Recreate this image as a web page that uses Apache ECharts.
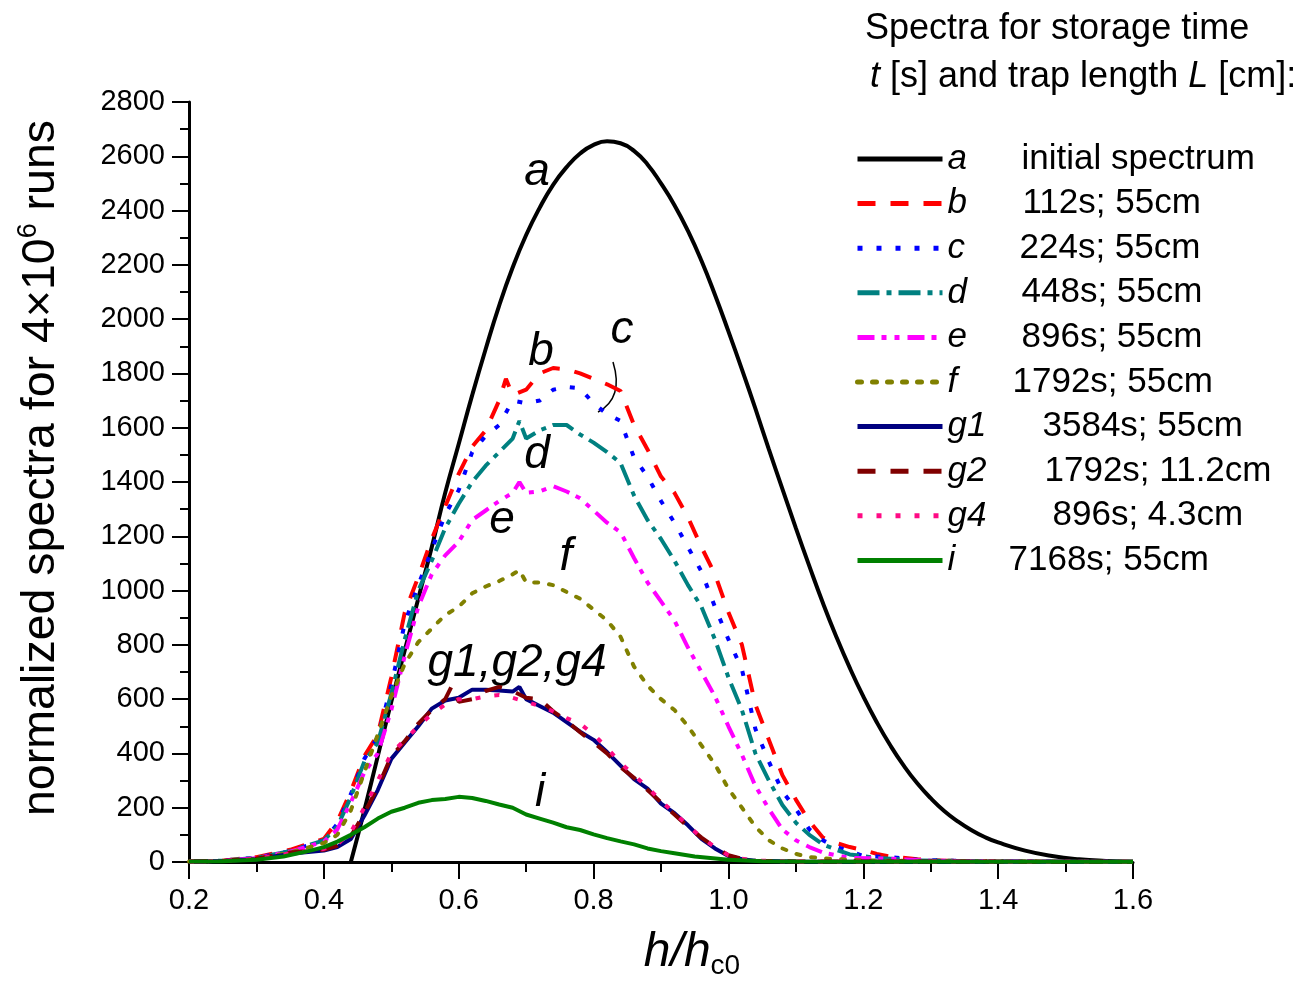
<!DOCTYPE html>
<html>
<head>
<meta charset="utf-8">
<script src="https://cdn.jsdelivr.net/npm/echarts@6/dist/echarts.min.js"></script>
<style>
  html, body { margin: 0; padding: 0; background: #fff; }
  #chart { width: 1301px; height: 986px; }
</style>
</head>
<body>
<div id="chart"></div>
<script>
// curve names, legend descriptions
const names = ['a', 'b', 'c', 'd', 'e', 'f', 'g1', 'g2', 'g4', 'i'];
const descs = ['initial spectrum', '112s; 55cm', '224s; 55cm', '448s; 55cm', '896s; 55cm',
  '1792s; 55cm', '3584s; 55cm', '1792s; 11.2cm', '896s; 4.3cm', '7168s; 55cm'];

// x ticks (h/hc0) and y ticks
const xTicks = [0.2, 0.4, 0.6, 0.8, 1.0, 1.2, 1.4, 1.6];
const yTicks = [0, 200, 400, 600, 800, 1000, 1200, 1400, 1600, 1800, 2000, 2200, 2400, 2600, 2800];

// [h/hc0, counts]
const curveA = [[0.44,0],[0.46,190],[0.48,390],[0.50,590],[0.52,780],[0.54,970],[0.56,1160],[0.58,1360],
  [0.60,1540],[0.62,1720],[0.64,1890],[0.66,2050],[0.68,2190],[0.70,2310],[0.72,2410],[0.74,2495],
  [0.76,2560],[0.78,2610],[0.80,2642],[0.82,2655],[0.84,2648],[0.86,2620],[0.88,2570],[0.90,2500],
  [0.92,2420],[0.94,2325],[0.96,2215],[0.98,2090],[1.00,1955],[1.02,1815],[1.04,1670],[1.06,1520],
  [1.08,1375],[1.10,1230],[1.12,1090],[1.14,955],[1.16,830],[1.18,715],[1.20,610],[1.22,515],
  [1.24,430],[1.26,355],[1.28,290],[1.30,235],[1.32,188],[1.34,150],[1.36,118],[1.38,92],[1.40,72],
  [1.44,42],[1.48,22],[1.52,10],[1.56,4],[1.60,1]];
const curveB = [[0.20,2],[0.25,5],[0.30,18],[0.35,45],[0.40,85],[0.42,150],[0.44,260],[0.46,390],[0.48,470],
  [0.50,680],[0.52,920],[0.54,1050],[0.56,1190],[0.58,1310],[0.60,1430],[0.62,1530],[0.64,1590],[0.66,1700],
  [0.67,1780],[0.68,1720],[0.70,1740],[0.72,1800],[0.74,1820],[0.76,1815],[0.78,1800],[0.80,1780],[0.82,1760],
  [0.84,1735],[0.86,1610],[0.88,1520],[0.90,1420],[0.92,1360],[0.94,1270],[0.96,1160],[0.98,1060],[1.00,920],
  [1.02,800],[1.04,580],[1.06,450],[1.08,320],[1.10,230],[1.12,150],[1.14,90],[1.16,70],[1.18,55],[1.20,44],
  [1.22,30],[1.24,20],[1.28,10],[1.32,5],[1.40,2],[1.60,0]];
const curveC = [[0.20,2],[0.25,5],[0.30,16],[0.35,40],[0.40,80],[0.42,140],[0.44,250],[0.46,380],[0.48,460],
  [0.50,650],[0.52,880],[0.54,1020],[0.56,1150],[0.58,1280],[0.60,1370],[0.62,1510],[0.64,1570],[0.66,1610],
  [0.68,1700],[0.70,1690],[0.72,1700],[0.74,1740],[0.76,1750],[0.78,1745],[0.80,1690],[0.82,1650],[0.84,1625],
  [0.86,1490],[0.88,1420],[0.90,1330],[0.92,1250],[0.94,1160],[0.96,1070],[0.98,940],[1.00,820],[1.02,710],
  [1.04,490],[1.06,370],[1.08,260],[1.10,195],[1.12,120],[1.14,80],[1.16,55],[1.18,40],[1.20,22],[1.24,18],
  [1.28,8],[1.34,4],[1.45,2],[1.60,0]];
const curveD = [[0.20,2],[0.25,5],[0.30,15],[0.35,40],[0.40,80],[0.42,130],[0.44,240],[0.46,370],[0.48,440],
  [0.50,620],[0.52,820],[0.54,1000],[0.56,1110],[0.58,1230],[0.60,1320],[0.62,1400],[0.64,1460],[0.66,1510],
  [0.68,1560],[0.69,1625],[0.70,1560],[0.72,1590],[0.74,1610],[0.76,1610],[0.78,1575],[0.80,1545],[0.82,1510],
  [0.84,1470],[0.86,1350],[0.88,1260],[0.90,1190],[0.92,1110],[0.94,1020],[0.96,940],[0.98,820],[1.00,680],
  [1.02,560],[1.04,400],[1.06,300],[1.08,210],[1.10,145],[1.12,100],[1.14,65],[1.16,45],[1.18,28],[1.22,15],
  [1.28,6],[1.40,2],[1.60,0]];
const curveE = [[0.20,2],[0.25,4],[0.30,14],[0.35,38],[0.40,75],[0.42,120],[0.44,220],[0.46,330],[0.48,400],
  [0.50,560],[0.52,760],[0.54,940],[0.56,1060],[0.58,1130],[0.60,1180],[0.62,1260],[0.64,1295],[0.66,1330],
  [0.68,1360],[0.69,1400],[0.70,1360],[0.72,1365],[0.74,1385],[0.76,1365],[0.78,1340],[0.80,1295],[0.82,1250],
  [0.84,1215],[0.86,1120],[0.88,1030],[0.90,960],[0.92,890],[0.94,790],[0.96,700],[0.98,610],[1.00,500],
  [1.02,395],[1.04,280],[1.06,195],[1.08,120],[1.10,80],[1.12,55],[1.14,35],[1.16,25],[1.18,15],[1.24,12],
  [1.30,5],[1.40,2],[1.60,0]];
const curveF = [[0.20,2],[0.25,4],[0.30,12],[0.35,35],[0.40,70],[0.42,100],[0.44,190],[0.46,330],[0.48,470],
  [0.50,610],[0.52,730],[0.54,810],[0.56,860],[0.58,910],[0.60,940],[0.62,990],[0.64,1015],[0.66,1035],
  [0.68,1060],[0.69,1075],[0.70,1030],[0.72,1030],[0.74,1020],[0.76,995],[0.78,970],[0.80,930],[0.82,890],
  [0.84,830],[0.86,720],[0.88,650],[0.90,600],[0.92,560],[0.94,500],[0.96,430],[0.98,360],[1.00,270],
  [1.02,200],[1.04,130],[1.06,80],[1.08,50],[1.09,40],[1.10,30],[1.12,18],[1.15,12],[1.20,6],[1.30,3],[1.60,0]];
const curveG1 = [[0.20,2],[0.25,4],[0.30,10],[0.35,30],[0.40,42],[0.42,55],[0.44,85],[0.46,170],[0.48,265],
  [0.50,380],[0.52,440],[0.54,500],[0.56,565],[0.58,595],[0.60,605],[0.62,635],[0.64,635],[0.66,632],
  [0.68,628],[0.69,645],[0.70,600],[0.72,575],[0.74,550],[0.76,515],[0.78,480],[0.80,450],[0.82,405],
  [0.84,355],[0.86,305],[0.88,270],[0.90,215],[0.92,180],[0.94,135],[0.96,85],[0.98,50],[1.00,22],
  [1.02,10],[1.04,5],[1.10,2],[1.60,1]];
const curveG2 = [[0.20,2],[0.25,4],[0.30,12],[0.35,35],[0.40,45],[0.42,60],[0.44,95],[0.46,180],[0.48,275],
  [0.50,390],[0.52,445],[0.54,510],[0.56,560],[0.58,600],[0.59,650],[0.60,590],[0.62,600],[0.64,630],
  [0.66,645],[0.68,630],[0.70,605],[0.72,600],[0.74,555],[0.76,520],[0.78,478],[0.80,440],[0.82,400],
  [0.84,350],[0.86,310],[0.88,265],[0.90,220],[0.92,175],[0.94,130],[0.96,90],[0.98,55],[1.00,25],
  [1.02,12],[1.04,5],[1.10,2],[1.60,1]];
const curveG4 = [[0.20,2],[0.25,4],[0.30,12],[0.35,32],[0.40,48],[0.42,65],[0.44,110],[0.46,200],[0.48,300],
  [0.50,400],[0.52,450],[0.54,500],[0.56,545],[0.58,580],[0.60,600],[0.62,600],[0.64,610],[0.66,615],
  [0.68,605],[0.70,590],[0.72,575],[0.74,555],[0.76,530],[0.78,510],[0.80,470],[0.82,420],[0.84,365],
  [0.86,320],[0.88,275],[0.90,225],[0.92,180],[0.94,135],[0.96,90],[0.98,55],[1.00,25],[1.02,12],
  [1.04,5],[1.10,2],[1.60,1]];
const curveI = [[0.20,2],[0.25,3],[0.30,8],[0.34,20],[0.38,42],[0.40,55],[0.42,75],[0.44,100],[0.46,128],
  [0.48,160],[0.50,185],[0.52,200],[0.54,218],[0.56,228],[0.58,232],[0.60,240],[0.62,236],[0.64,225],
  [0.66,212],[0.68,200],[0.70,175],[0.72,160],[0.74,145],[0.76,128],[0.78,118],[0.80,102],[0.82,88],
  [0.84,76],[0.86,65],[0.88,50],[0.90,40],[0.92,32],[0.95,20],[1.00,8],[1.05,3],[1.10,2],[1.60,1]];

const curves = [curveA, curveB, curveC, curveD, curveE, curveF, curveG1, curveG2, curveG4, curveI];

const FONT = '"Liberation Sans", Arial, sans-serif';
const colors = ['#000000', '#ff0000', '#0000ff', '#008080', '#ff00ff', '#808000', '#000080', '#800000', '#ff0a84', '#008000'];
const dashes = ['solid', [18, 15], [5, 14], [22, 7, 5, 7], [17, 7, 5, 8, 5, 8], [4, 11], 'solid', [18, 15], [5, 14], 'solid'];
const caps = ['butt', 'butt', 'butt', 'butt', 'butt', 'round', 'butt', 'butt', 'butt', 'butt'];
// horizontal offset of each legend description
const descPad = [19, 20, 17, 19, 19, 10, 40, 42, 50, 6];

const rich = { L: { fontSize: 35, fontStyle: 'italic', width: 55, fontFamily: FONT, color: '#000' } };
descPad.forEach(function (p, k) {
  rich['t' + k] = { fontSize: 35, padding: [0, 0, 0, p], fontFamily: FONT, color: '#000' };
});

const series = curves.map(function (c, k) {
  return {
    name: names[k],
    type: 'line',
    data: c,
    symbol: 'none',
    showSymbol: false,
    smooth: k === 0,
    z: 2,
    lineStyle: { color: colors[k], width: 4, type: dashes[k], cap: caps[k] },
    itemStyle: { color: colors[k] }
  };
});

const chart = echarts.init(document.getElementById('chart'));
chart.setOption({
  animation: false,
  backgroundColor: '#fff',
  title: {
    left: 860,
    top: 0,
    text: '{n|Spectra for storage time}\n {i|t}{n| [s] and trap length }{i|L}{n| [cm]:}',
    textStyle: {
      fontWeight: 'normal',
      rich: {
        n: { fontSize: 36, fontFamily: FONT, fontWeight: 'normal', color: '#000', lineHeight: 48 },
        i: { fontSize: 36, fontFamily: FONT, fontWeight: 'normal', fontStyle: 'italic', color: '#000', lineHeight: 48 }
      }
    }
  },
  legend: {
    orient: 'vertical',
    left: 850,
    top: 134,
    itemWidth: 85,
    itemHeight: 14,
    itemGap: 4.6,
    data: names,
    selectedMode: false,
    itemStyle: { opacity: 0, borderWidth: 0 },
    lineStyle: { width: 5 },
    formatter: function (name) {
      const k = names.indexOf(name);
      return '{L|' + name + '}{t' + k + '|' + descs[k] + '}';
    },
    textStyle: { rich: rich, lineHeight: 40 }
  },
  grid: { left: 189, right: 168, top: 102, bottom: 124 },
  xAxis: {
    type: 'value',
    min: xTicks[0],
    max: xTicks[xTicks.length - 1],
    interval: 0.2,
    name: '{i|h/h}{s|c0}',
    nameLocation: 'middle',
    nameGap: 64,
    nameTextStyle: {
      padding: [0, 0, 0, 62],
      rich: {
        i: { fontSize: 48, fontStyle: 'italic', fontFamily: FONT, color: '#000' },
        s: { fontSize: 28, fontFamily: FONT, color: '#000', padding: [26, 0, 0, 0] }
      }
    },
    axisLine: { onZero: false, lineStyle: { color: '#000', width: 3 } },
    axisTick: { length: 17, lineStyle: { color: '#000', width: 2 } },
    minorTick: { show: true, splitNumber: 2, length: 10, lineStyle: { color: '#000', width: 2 } },
    splitLine: { show: false },
    axisLabel: {
      margin: 24,
      color: '#000',
      fontSize: 29,
      fontFamily: FONT,
      formatter: function (v) { return v.toFixed(1); }
    }
  },
  yAxis: {
    type: 'value',
    min: yTicks[0],
    max: yTicks[yTicks.length - 1],
    interval: 200,
    name: '{n|normalized spectra for 4×10}{s|6}{n| runs}',
    nameLocation: 'middle',
    nameRotate: 90,
    nameGap: 121,
    nameTextStyle: {
      padding: [0, 0, 0, 28],
      rich: {
        n: { fontSize: 46.5, fontFamily: FONT, color: '#000' },
        s: { fontSize: 27, fontFamily: FONT, color: '#000', padding: [0, 0, 26, 0] }
      }
    },
    axisLine: { onZero: false, lineStyle: { color: '#000', width: 3 } },
    axisTick: { length: 17, lineStyle: { color: '#000', width: 2 } },
    minorTick: { show: true, splitNumber: 2, length: 9, lineStyle: { color: '#000', width: 2 } },
    splitLine: { show: false },
    axisLabel: {
      margin: 24,
      color: '#000',
      fontSize: 29,
      fontFamily: FONT,
      formatter: function (v) { return String(v); }
    }
  },
  graphic: [
    { type: 'text', x: 537, y: 172, style: { text: 'a', font: 'italic 46px ' + FONT, fill: '#000', align: 'center', verticalAlign: 'middle' } },
    { type: 'text', x: 541, y: 352, style: { text: 'b', font: 'italic 46px ' + FONT, fill: '#000', align: 'center', verticalAlign: 'middle' } },
    { type: 'text', x: 622, y: 330, style: { text: 'c', font: 'italic 46px ' + FONT, fill: '#000', align: 'center', verticalAlign: 'middle' } },
    { type: 'text', x: 537, y: 455, style: { text: 'd', font: 'italic 46px ' + FONT, fill: '#000', align: 'center', verticalAlign: 'middle' } },
    { type: 'text', x: 502, y: 520, style: { text: 'e', font: 'italic 46px ' + FONT, fill: '#000', align: 'center', verticalAlign: 'middle' } },
    { type: 'text', x: 566, y: 557, style: { text: 'f', font: 'italic 46px ' + FONT, fill: '#000', align: 'center', verticalAlign: 'middle' } },
    { type: 'text', x: 517, y: 663, style: { text: 'g1,g2,g4', font: 'italic 46px ' + FONT, fill: '#000', align: 'center', verticalAlign: 'middle' } },
    { type: 'text', x: 540, y: 793, style: { text: 'i', font: 'italic 46px ' + FONT, fill: '#000', align: 'center', verticalAlign: 'middle' } },
    {
      type: 'bezierCurve',
      shape: { x1: 613, y1: 362, cpx1: 624, cpy1: 398, x2: 598, y2: 412 },
      style: { stroke: '#000', lineWidth: 1.5, fill: null }
    }
  ],
  series: series
});
</script>
</body>
</html>
